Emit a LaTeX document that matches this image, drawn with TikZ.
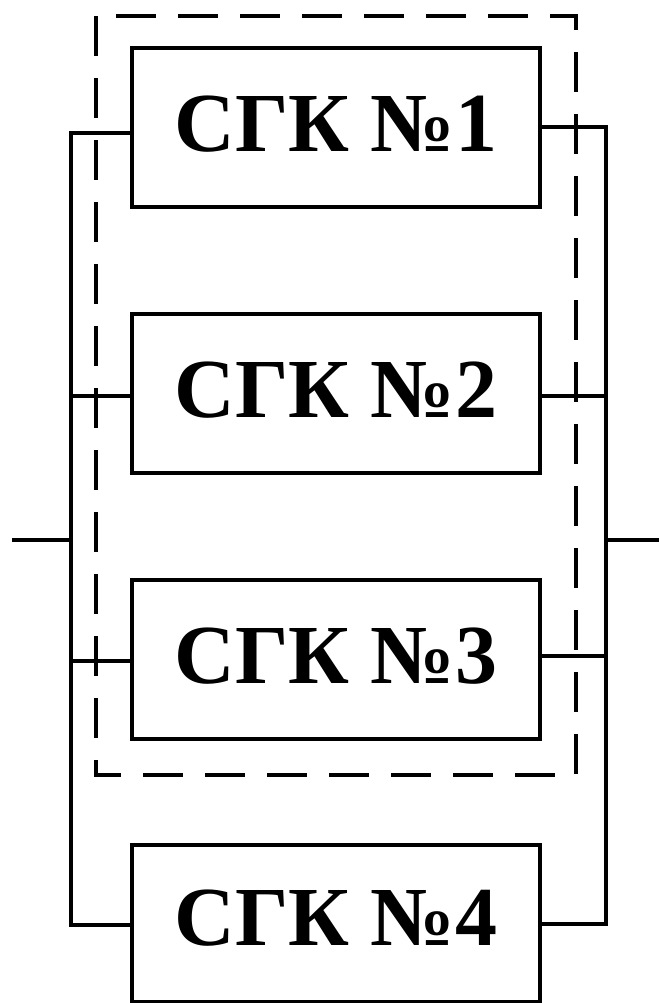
\documentclass[tikz,border=0pt]{standalone}
\usepackage{fontspec}
\setmainfont{Liberation Serif}
\begin{document}
\begin{tikzpicture}[x=1pt,y=-1pt,
  blk/.style={draw, line width=4pt, minimum width=408pt, minimum height=159pt,
    inner sep=0pt, text depth=7pt, font=\fontsize{84}{84}\selectfont\bfseries},
  wire/.style={line width=4pt, line join=miter},
  grp/.style={line width=3.6pt, dash pattern=on 40pt off 22pt}]
\useasboundingbox (0,0) rectangle (659,1003);
\node[blk] (b1) at (336,127.5) {СГК №1};
\node[blk] (b2) at (336,393) {СГК №2};
\node[blk] (b3) at (336,659.5) {СГК №3};
\node[blk, minimum height=157pt, text depth=11pt] (b4) at (336,923.5) {СГК №4};
% group frame
\draw[grp] (96,16) rectangle (576,775);
% left bus
\coordinate (lt) at (71,133);
\coordinate (lb) at (71,925);
\coordinate (in) at (12,540);
\coordinate (lm) at (71,540);
\draw[wire] (b1.west |- lt) -- (lt) -- (lb) -- (b4.west |- lb);
\draw[wire] (71,396) coordinate (l2) -- (b2.west |- l2);
\draw[wire] (71,661) coordinate (l3) -- (b3.west |- l3);
\draw[wire] (in) -- (lm);
% right bus
\coordinate (rt) at (606,127);
\coordinate (rb) at (606,924);
\coordinate (out) at (659,540);
\coordinate (rm) at (606,540);
\draw[wire] (b1.east |- rt) -- (rt) -- (rb) -- (b4.east |- rb);
\draw[wire] (606,396) coordinate (r2) -- (b2.east |- r2);
\draw[wire] (606,656) coordinate (r3) -- (b3.east |- r3);
\draw[wire] (rm) -- (out);
\end{tikzpicture}
\end{document}
